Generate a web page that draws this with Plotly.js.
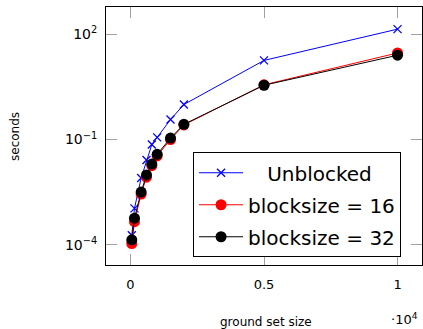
<!DOCTYPE html>
<html>
<head>
<meta charset="utf-8">
<script src="https://cdn.plot.ly/plotly-3.0.1.min.js"></script>
<style>html,body{margin:0;padding:0;background:#fff;}#chart{width:423px;height:329px;}</style>
</head>
<body>
<div id="chart"></div>
<script>
// Data
const groundSetSize = [50, 150, 400, 600, 800, 1000, 1500, 2000, 5000, 10000];
const unblocked   = [1.9e-4, 1.1e-3, 0.008, 0.026, 0.072, 0.115, 0.37, 0.99, 17.8, 138];
const blocksize16 = [1.1e-4, 4.6e-4, 2.8e-3, 8.5e-3, 0.018, 0.034, 0.10, 0.26, 3.6, 29];
const blocksize32 = [1.4e-4, 5.8e-4, 3.2e-3, 9.8e-3, 0.020, 0.038, 0.11, 0.27, 3.5, 25];
const seriesNames = ["\u00a0\u00a0\u00a0Unblocked", "blocksize = 16", "blocksize = 32"];
const xTickVals = [0, 5000, 10000];
const xTickText = ["0", "0.5", "1"];
const yTickVals = [1e-4, 1e-1, 1e2];
const yTickText = ["10<sup>\u22124</sup>", "10<sup>\u22121</sup>", "10<sup>2</sup>"];

const font = "DejaVu Sans, sans-serif";

const traces = [
  {x: groundSetSize, y: unblocked, name: seriesNames[0], mode: "lines+markers",
   line: {color: "#0000ff", width: 1}, marker: {symbol: "x-thin", size: 8, color: "#0000ff", line: {color: "#0000ff", width: 1.3}},
   legendgroup: "a"},
  {x: groundSetSize, y: blocksize16, name: seriesNames[1], mode: "lines+markers",
   line: {color: "#ff0000", width: 1}, marker: {symbol: "circle", size: 11, color: "#ff0000"},
   legendgroup: "b"},
  {x: groundSetSize, y: blocksize32, name: seriesNames[2], mode: "lines+markers",
   line: {color: "#000000", width: 1}, marker: {symbol: "circle", size: 11, color: "#000000"},
   legendgroup: "c"}
];

const layout = {
  width: 423, height: 329,
  margin: {l: 105.5, r: 1, t: 7, b: 64},
  paper_bgcolor: "#fff", plot_bgcolor: "#fff",
  font: {family: font, size: 13, color: "#000"},
  showlegend: true,
  xaxis: {
    range: [-916, 10916], tickvals: xTickVals, ticktext: xTickText,
    ticks: "inside", ticklen: 11, tickcolor: "#a0a0a0", tickwidth: 1,
    showline: true, linecolor: "#000", linewidth: 1, mirror: "allticks",
    showgrid: false, zeroline: false, ticklabelstandoff: 7,
    tickfont: {family: font, size: 13}
  },
  yaxis: {
    type: "log", range: [-4.57, 2.77], tickvals: yTickVals, ticktext: yTickText,
    ticks: "inside", ticklen: 11, tickcolor: "#a0a0a0", tickwidth: 1,
    showline: true, linecolor: "#000", linewidth: 1, mirror: "allticks",
    showgrid: false, zeroline: false, ticklabelstandoff: 5,
    tickfont: {family: font, size: 14}
  },
  legend: {
    x: 0.2755, y: 0.437, xanchor: "left", yanchor: "top",
    bgcolor: "#fff", bordercolor: "#000", borderwidth: 1,
    font: {family: font, size: 20, color: "#000"},
    itemwidth: 44, traceorder: "grouped", tracegroupgap: 3
  },
  annotations: [
    {text: "ground set size", xref: "paper", yref: "paper", x: 0.505, y: -0.22,
     showarrow: false, font: {family: font, size: 12}, xanchor: "center", yanchor: "middle"},
    {text: "seconds", xref: "paper", x: -0.288, yref: "paper", y: 0.5, textangle: -90,
     showarrow: false, font: {family: font, size: 12}, xanchor: "center", yanchor: "middle"},
    {text: "\u00b710<sup>4</sup>", xref: "paper", yref: "paper", x: 0.994, y: -0.21,
     showarrow: false, font: {family: font, size: 13}, xanchor: "right", yanchor: "middle"}
  ]
};

Plotly.newPlot("chart", traces, layout, {displayModeBar: false, staticPlot: true});
</script>
</body>
</html>
